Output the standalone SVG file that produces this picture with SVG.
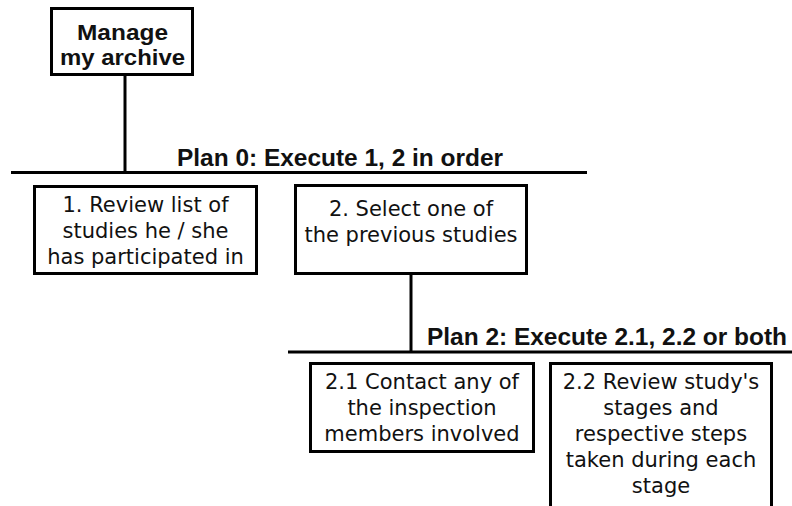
<svg xmlns="http://www.w3.org/2000/svg" width="792" height="506" viewBox="0 0 792 506">
  <style>
    .box { fill: #ffffff; stroke: #000000; stroke-width: 3; }
    .link { stroke: #000000; stroke-width: 3; fill: none; }
    .t { font-family: "DejaVu Sans", Verdana, sans-serif; font-size: 21px; fill: #111111; text-anchor: middle; }
    .b { font-family: "Liberation Sans", Arial, sans-serif; font-size: 24px; font-weight: bold; fill: #111111; }
    .rb { font-family: "Liberation Sans", Arial, sans-serif; font-size: 22.5px; font-weight: bold; fill: #111111; text-anchor: middle; }
  </style>
  <rect width="792" height="506" fill="#ffffff"/>

  <!-- connectors and plan bars -->
  <g id="connectors">
    <line class="link" x1="125" y1="76" x2="125" y2="173"/>
    <line class="link" x1="11" y1="172.5" x2="587" y2="172.5"/>
    <line class="link" x1="411" y1="275" x2="411" y2="352"/>
    <line class="link" x1="288" y1="352" x2="792" y2="352"/>
  </g>

  <g id="plan0">
    <text class="b" x="177" y="166" textLength="326" lengthAdjust="spacingAndGlyphs">Plan 0: Execute 1, 2 in order</text>
  </g>
  <g id="plan2">
    <text class="b" x="427" y="345" textLength="360" lengthAdjust="spacingAndGlyphs">Plan 2: Execute 2.1, 2.2 or both</text>
  </g>

  <g id="root">
    <rect class="box" x="51.5" y="8.5" width="141" height="66"/>
    <text class="rb" x="122.5" y="40" textLength="91" lengthAdjust="spacingAndGlyphs">Manage</text>
    <text class="rb" x="122.5" y="65" textLength="125" lengthAdjust="spacingAndGlyphs">my archive</text>
  </g>

  <g id="task1">
    <rect class="box" x="34.5" y="186.5" width="222" height="87"/>
    <text class="t" x="145.5" y="212">1. Review list of</text>
    <text class="t" x="145.5" y="238">studies he / she</text>
    <text class="t" x="145.5" y="264">has participated in</text>
  </g>

  <g id="task2">
    <rect class="box" x="295.5" y="185.5" width="231" height="88"/>
    <text class="t" x="411" y="216">2. Select one of</text>
    <text class="t" x="411" y="242">the previous studies</text>
  </g>

  <g id="task2_1">
    <rect class="box" x="310.5" y="363.5" width="223" height="88"/>
    <text class="t" x="422" y="389">2.1 Contact any of</text>
    <text class="t" x="422" y="415">the inspection</text>
    <text class="t" x="422" y="441">members involved</text>
  </g>

  <g id="task2_2">
    <rect class="box" x="550.5" y="363.5" width="221" height="170"/>
    <text class="t" x="661" y="389">2.2 Review study's</text>
    <text class="t" x="661" y="415">stages and</text>
    <text class="t" x="661" y="441">respective steps</text>
    <text class="t" x="661" y="467">taken during each</text>
    <text class="t" x="661" y="493">stage</text>
  </g>
</svg>
